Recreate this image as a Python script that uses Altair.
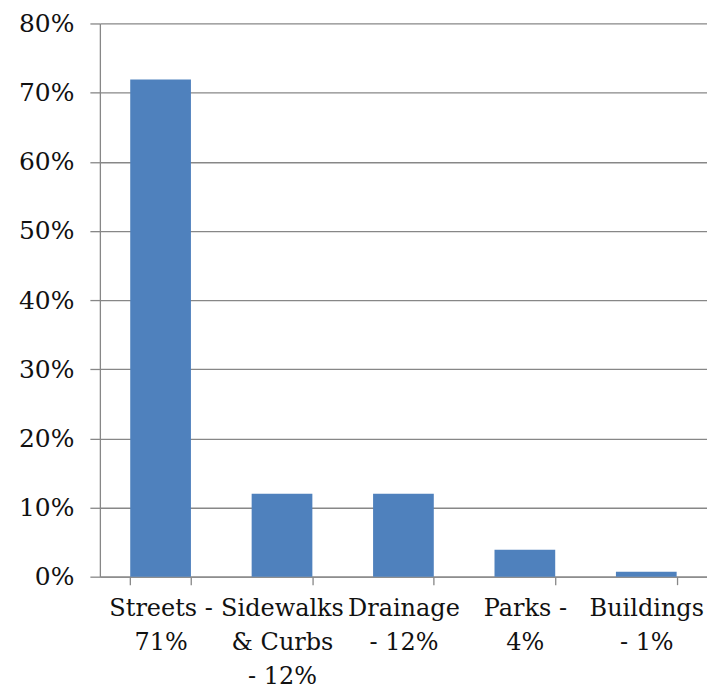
import altair as alt
import pandas as pd

categories = ["Streets -|71%", "Sidewalks|& Curbs|- 12%", "Drainage|- 12%", "Parks -|4%", "Buildings|- 1%"]
shares = [0.719, 0.12, 0.12, 0.039, 0.007]

df = pd.DataFrame({"category": categories, "share": shares})

axis_color = "#878787"
font = "DejaVu Serif"

chart = alt.Chart(df).mark_bar(color="#4F81BD").encode(
    x=alt.X(
        "category:N",
        sort=categories,
        title=None,
        scale=alt.Scale(paddingInner=0.5, paddingOuter=0.25),
        axis=alt.Axis(
            labelAngle=0,
            labelExpr="split(datum.label, '|')",
            labelFont=font,
            labelFontSize=24,
            labelLineHeight=34,
            labelColor="#111111",
            labelPadding=12,
            tickBand="extent",
            tickSize=8,
            tickColor=axis_color,
            domainColor=axis_color,
            grid=False,
            labelLimit=300,
        ),
    ),
    y=alt.Y(
        "share:Q",
        title=None,
        scale=alt.Scale(domain=[0, 0.8], nice=False),
        axis=alt.Axis(
            format=".0%",
            values=[0, 0.1, 0.2, 0.3, 0.4, 0.5, 0.6, 0.7, 0.8],
            labelFont=font,
            labelFontSize=25,
            labelColor="#111111",
            labelPadding=16,
            tickSize=10,
            tickColor=axis_color,
            domainColor=axis_color,
            gridColor=axis_color,
            gridWidth=1.3,
            gridOpacity=1,
        ),
    ),
).properties(
    width=608,
    height=554,
    autosize=alt.AutoSizeParams(type="none"),
    padding={"left": 92, "top": 15, "right": 0, "bottom": 114},
).configure_view(stroke=None).configure_axis(domainWidth=1.3, tickWidth=1.3)

chart.save("out.html", embed_options={"renderer": "svg", "actions": False})
